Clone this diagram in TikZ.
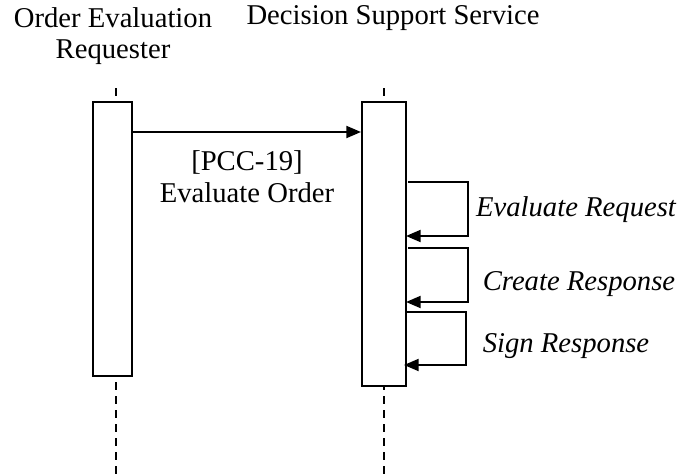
\documentclass[tikz,border=0pt]{standalone}
\usepackage{fontspec}
\setmainfont{Liberation Serif}
\usetikzlibrary{arrows.meta}
\begin{document}
\begin{tikzpicture}[x=0.75pt,y=-0.75pt,
  lbl/.style={inner sep=0pt,font=\fontsize{21.5}{25.5}\selectfont,align=center},
  ilbl/.style={lbl,font=\fontsize{21.5}{25.5}\selectfont\itshape},
  act/.style={draw,line width=1.5pt,fill=white,inner sep=0pt},
  life/.style={line width=1.1pt,dash pattern=on 6pt off 4.5pt},
  msg/.style={line width=1.5pt,-{Triangle[length=11pt,width=9pt]}},
  self/.style={line width=1.5pt,-{Triangle[length=11pt,width=9pt]}}]
\useasboundingbox (0,0) rectangle (682,475);
% titles
\node[lbl] (t1) at (113,18) {Order Evaluation};
\node[lbl] (t1b) at (113,52) {Requester};
\node[lbl] (t2) at (393,18) {Decision Support Service};
% lifelines
\coordinate (l1top) at (116,88);
\coordinate (l1bot) at (116,475);
\coordinate (l2top) at (384,88);
\coordinate (l2bot) at (384,475);
\draw[life] (l1top) -- (l1bot);
\draw[life] (l2top) -- (l2bot);
% activation boxes
\node[act,minimum width=39*0.75pt,minimum height=274*0.75pt] (a1) at (112.5,239) {};
\node[act,minimum width=44*0.75pt,minimum height=284*0.75pt] (a2) at (384,244) {};
% message
\draw[msg] (a1.east |- 0,132) -- (a2.west |- 0,132);
\node[lbl] (m1) at (247,162) {[PCC-19]};
\node[lbl] (m1b) at (247,193) {Evaluate Order};
% self messages
\coordinate (s1a) at (408,182); \coordinate (s1b) at (468,182);
\coordinate (s1c) at (468,236); \coordinate (s1d) at (406,236);
\draw[self] (s1a) -- (s1b) -- (s1c) -- (s1d);
\node[ilbl] (e1) at (576,210) {Evaluate Request};
\coordinate (s2a) at (408,248); \coordinate (s2b) at (468,248);
\coordinate (s2c) at (468,302); \coordinate (s2d) at (406,302);
\draw[self] (s2a) -- (s2b) -- (s2c) -- (s2d);
\node[ilbl] (e2) at (579,284) {Create Response};
\coordinate (s3a) at (406,312); \coordinate (s3b) at (466,312);
\coordinate (s3c) at (466,365); \coordinate (s3d) at (404,365);
\draw[self] (s3a) -- (s3b) -- (s3c) -- (s3d);
\node[ilbl] (e3) at (566,346) {Sign Response};
\end{tikzpicture}
\end{document}
